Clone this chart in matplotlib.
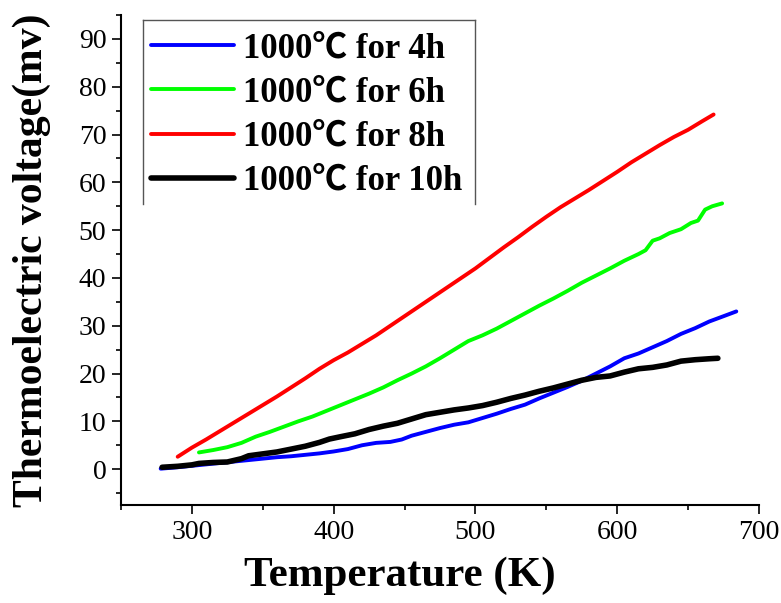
import matplotlib
matplotlib.use("Agg")
import matplotlib.pyplot as plt
from matplotlib.ticker import MultipleLocator
from matplotlib.lines import Line2D

# ---- data ----
t_4h = [278, 290, 300, 310, 320, 330, 340, 350, 360, 370, 380, 390, 400, 410, 420, 430, 440, 448,
        455, 465, 475, 485, 495, 505, 515, 525, 535, 545, 555, 565, 575, 585, 595, 605, 615, 625,
        635, 645, 655, 665, 675, 684]
v_4h = [0.1, 0.4, 0.7, 1.0, 1.3, 1.6, 1.9, 2.2, 2.5, 2.7, 3.0, 3.3, 3.7, 4.2, 5.0, 5.5, 5.7, 6.2,
        7.0, 7.8, 8.6, 9.3, 9.8, 10.7, 11.6, 12.6, 13.5, 14.8, 16.0, 17.2, 18.5, 20.0, 21.5, 23.2,
        24.2, 25.5, 26.8, 28.3, 29.5, 30.9, 32.0, 33.0]

t_6h = [305, 315, 325, 335, 345, 355, 365, 375, 385, 395, 405, 415, 425, 435, 445, 455, 465, 475,
        485, 495, 505, 515, 525, 535, 545, 555, 565, 575, 585, 595, 605, 615, 620, 625, 630, 637,
        645, 652, 657, 662, 667, 674]
v_6h = [3.5, 4.0, 4.6, 5.5, 6.8, 7.8, 8.9, 10.0, 11.0, 12.2, 13.4, 14.6, 15.8, 17.1, 18.6, 20.0,
        21.5, 23.2, 25.0, 26.8, 28.0, 29.4, 31.0, 32.6, 34.2, 35.7, 37.3, 39.0, 40.5, 42.0, 43.6,
        45.0, 45.8, 47.8, 48.3, 49.4, 50.2, 51.5, 52.0, 54.3, 55.0, 55.6]

t_8h = [290, 300, 310, 320, 330, 340, 350, 360, 370, 380, 390, 400, 410, 420, 430, 440, 450, 460,
        470, 480, 490, 500, 510, 520, 530, 540, 550, 560, 570, 580, 590, 600, 610, 620, 630, 640,
        650, 660, 668]
v_8h = [2.6, 4.5, 6.2, 8.0, 9.8, 11.6, 13.4, 15.2, 17.1, 19.0, 21.0, 22.8, 24.4, 26.2, 28.0, 30.0,
        32.0, 34.0, 36.0, 38.0, 40.0, 42.0, 44.2, 46.4, 48.5, 50.7, 52.8, 54.8, 56.6, 58.4, 60.3,
        62.2, 64.2, 66.0, 67.8, 69.5, 71.0, 72.8, 74.2]

t_10h = [279, 290, 300, 305, 315, 325, 335, 340, 350, 360, 370, 380, 390, 397, 405, 415, 425, 435,
         445, 455, 465, 475, 485, 495, 505, 515, 525, 535, 545, 555, 565, 575, 585, 595, 605, 615,
         625, 635, 645, 655, 665, 671]
v_10h = [0.4, 0.6, 0.9, 1.2, 1.4, 1.5, 2.2, 2.8, 3.2, 3.6, 4.2, 4.8, 5.6, 6.3, 6.8, 7.4, 8.3, 9.0,
         9.6, 10.5, 11.4, 11.9, 12.4, 12.8, 13.3, 14.0, 14.8, 15.5, 16.3, 17.0, 17.8, 18.6, 19.2,
         19.5, 20.3, 21.0, 21.3, 21.8, 22.6, 22.9, 23.1, 23.2]

labels = ["1000℃ for 4h", "1000℃ for 6h", "1000℃ for 8h", "1000℃ for 10h"]
colors = ["#0000ff", "#00ff00", "#ff0000", "#000000"]
widths = [2.8, 2.8, 2.8, 4.0]

serif = ["Liberation Serif", "Noto Sans CJK SC", "DejaVu Serif"]

fig = plt.figure(figsize=(7.81, 6.03), dpi=100)
ax = fig.add_axes([0.1549, 0.1625, 0.8169, 0.8125])

series = [(t_4h, v_4h), (t_6h, v_6h), (t_8h, v_8h), (t_10h, v_10h)]
handles = []
for (t, v), lab, c, w in zip(series, labels, colors, widths):
    h, = ax.plot(t, v, color=c, lw=w, label=lab, solid_capstyle="round")
    handles.append(h)

ax.set_xlim(250, 700)
ax.set_ylim(-7.5, 95)
ax.xaxis.set_minor_locator(MultipleLocator(50))
ax.yaxis.set_minor_locator(MultipleLocator(5))
ax.set_xticks([300, 400, 500, 600, 700])
ax.set_yticks(list(range(0, 91, 10)))

for s in ["top", "right"]:
    ax.spines[s].set_visible(False)
for s in ["left", "bottom"]:
    ax.spines[s].set_linewidth(1.5)

ax.tick_params(which="major", direction="out", length=6.5, width=1.2, labelsize=20, pad=4)
ax.tick_params(which="minor", direction="out", length=3.5, width=1.2)
for lbl in ax.get_xticklabels() + ax.get_yticklabels():
    lbl.set_fontfamily(serif)

ax.set_xlabel("Temperature (K)", fontsize=31, fontweight="bold", family=serif)
ax.xaxis.set_label_coords(0.437, -0.105)
ax.set_ylabel("Thermoelectric voltage(mv)", fontsize=30, fontweight="bold", family=serif, labelpad=20)

leg = ax.legend(handles=handles, loc="upper left", bbox_to_anchor=(0.02, 1.0),
                frameon=False, prop={"family": serif, "weight": "bold", "size": 25},
                handlelength=2.4, handletextpad=0.25, labelspacing=0.32, borderaxespad=0.1)

# legend frame (three sides, as in the reference)
x0, x1 = 143 / 781, 475 / 781
y0, y1 = 1 - 204 / 603, 1 - 20 / 603
for xs, ys in [([x0, x0], [y0, y1]), ([x0, x1], [y1, y1]), ([x1, x1], [y1, y0])]:
    fig.add_artist(Line2D(xs, ys, color="#555555", lw=1.0, transform=fig.transFigure))

fig.savefig("out.png", dpi=100)
